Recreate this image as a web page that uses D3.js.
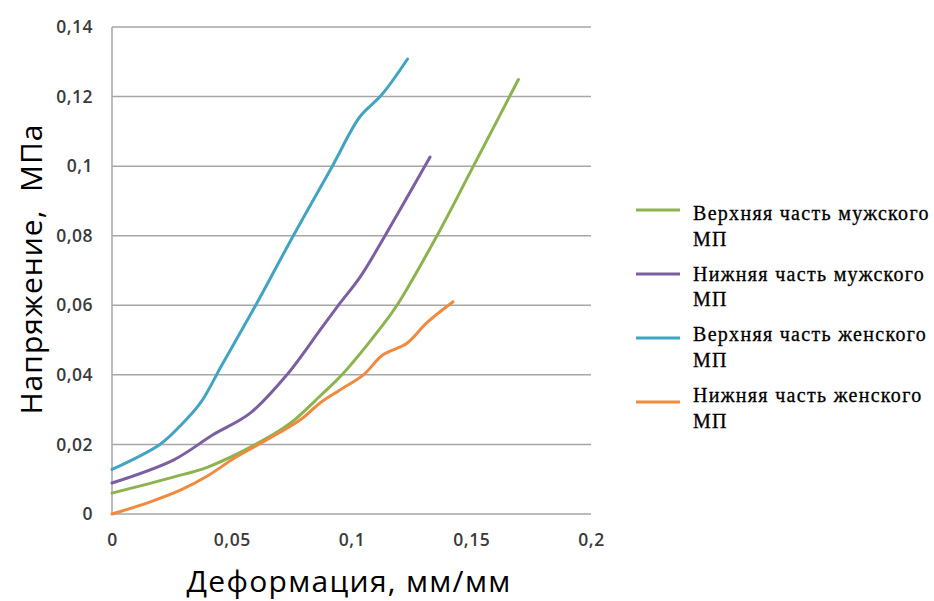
<!DOCTYPE html>
<html><head><meta charset="utf-8">
<script src="https://cdn.jsdelivr.net/npm/d3@7"></script>
<style>body{margin:0;background:#fff}</style>
</head><body><svg id="c" width="934" height="601"></svg>
<script>
const xTicks = [0, 0.05, 0.1, 0.15, 0.2];
const yTicks = [0, 0.02, 0.04, 0.06, 0.08, 0.1, 0.12, 0.14];
const seriesNames = ["Верхняя часть мужского МП", "Нижняя часть мужского МП", "Верхняя часть женского МП", "Нижняя часть женского МП"];
const seriesColors = ["#8DB34F", "#7B5FA2", "#41A4C2", "#F08A3E"];
const upperMaleX = [0, 0.0256, 0.04, 0.06, 0.0743, 0.087, 0.096, 0.1127, 0.119, 0.1357, 0.1509, 0.1697];
const upperMaleY = [0.006, 0.0106, 0.0135, 0.02, 0.026, 0.034, 0.04, 0.054, 0.06, 0.08, 0.1, 0.1249];
const lowerMaleX = [0, 0.0256, 0.042, 0.0577, 0.073, 0.087, 0.0945, 0.1035, 0.114, 0.1328];
const lowerMaleY = [0.0089, 0.0155, 0.0227, 0.029, 0.04, 0.053, 0.06, 0.068, 0.08, 0.1026];
const upperFemaleX = [0, 0.02, 0.028, 0.037, 0.046, 0.06, 0.0757, 0.092, 0.1035, 0.1126, 0.1234];
const upperFemaleY = [0.0128, 0.02, 0.025, 0.032, 0.043, 0.06, 0.08, 0.1, 0.1142, 0.1205, 0.1308];
const lowerFemaleX = [0, 0.016, 0.029, 0.04, 0.051, 0.063, 0.0785, 0.087, 0.095, 0.105, 0.113, 0.123, 0.1315, 0.1424];
const lowerFemaleY = [0, 0.0035, 0.007, 0.011, 0.016, 0.0207, 0.027, 0.032, 0.0356, 0.040, 0.0457, 0.049, 0.055, 0.061];

const seriesX = [upperMaleX, lowerMaleX, upperFemaleX, lowerFemaleX];
const seriesY = [upperMaleY, lowerMaleY, upperFemaleY, lowerFemaleY];

const svg = d3.select("#c");
const x = d3.scaleLinear().domain([0, 0.2]).range([112, 591]);
const y = d3.scaleLinear().domain([0, 0.14]).range([514, 27]);
const fmt = d => String(+d.toFixed(2)).replace(".", ",");

// gridlines
svg.append("g").selectAll("line").data(yTicks).join("line")
  .attr("x1", x(0)).attr("x2", x(0.2))
  .attr("y1", d => y(d)).attr("y2", d => y(d))
  .attr("stroke", "#A6A6A6").attr("stroke-width", 1.5);
svg.append("line").attr("x1", x(0)).attr("x2", x(0)).attr("y1", y(0)).attr("y2", y(0.14))
  .attr("stroke", "#A6A6A6").attr("stroke-width", 1.5);

// axes labels via d3 axes
const yAxis = svg.append("g").attr("transform", `translate(${x(0)},0)`)
  .call(d3.axisLeft(y).tickValues(yTicks).tickFormat(fmt).tickSize(0).tickPadding(19));
const xAxis = svg.append("g").attr("transform", `translate(0,${y(0)})`)
  .call(d3.axisBottom(x).tickValues(xTicks).tickFormat(fmt).tickSize(0).tickPadding(20));
[yAxis, xAxis].forEach(a => {
  a.select(".domain").remove();
  a.selectAll("text").attr("font-family", "Open Sans, sans-serif").attr("font-size", 17.5)
    .attr("font-weight", 600).attr("letter-spacing", 0.5).attr("fill", "#3a3a3a");
});

// lines
const line = d3.line().x(d => x(d[0])).y(d => y(d[1])).curve(d3.curveCatmullRom.alpha(0.5));
seriesX.forEach((xs, i) => {
  const pts = xs.map((v, j) => [v, seriesY[i][j]]);
  svg.append("path").datum(pts).attr("d", line).attr("fill", "none")
    .attr("stroke", seriesColors[i]).attr("stroke-width", 3).attr("stroke-linecap", "round");
});

// axis titles
svg.append("text").attr("transform", "translate(42,269) rotate(-90)")
  .attr("text-anchor", "middle").attr("font-family", "Open Sans, sans-serif")
  .attr("font-size", 30).attr("letter-spacing", 1).attr("fill", "#000")
  .attr("xml:space", "preserve").text("Напряжение,  МПа");
svg.append("text").attr("x", 349).attr("y", 592)
  .attr("text-anchor", "middle").attr("font-family", "Open Sans, sans-serif")
  .attr("font-size", 30).attr("letter-spacing", 1.3).attr("fill", "#000").text("Деформация, мм/мм");

// legend
const leg = svg.append("g");
seriesNames.forEach((name, i) => {
  const ly = 210 + i * 64;
  const ty = 220 + i * 60.7;
  leg.append("line").attr("x1", 636).attr("x2", 680).attr("y1", ly).attr("y2", ly)
    .attr("stroke", seriesColors[i]).attr("stroke-width", 3);
  const parts = [name.replace(" МП", ""), "МП"];
  parts.forEach((p, k) => {
    leg.append("text").attr("x", 693).attr("y", ty + k * 25.5)
      .attr("font-family", "Liberation Serif, serif").attr("font-size", 20)
      .attr("letter-spacing", 1.3).attr("stroke", "#000").attr("stroke-width", 0.3)
      .attr("fill", "#000").text(p);
  });
});
</script></body></html>
